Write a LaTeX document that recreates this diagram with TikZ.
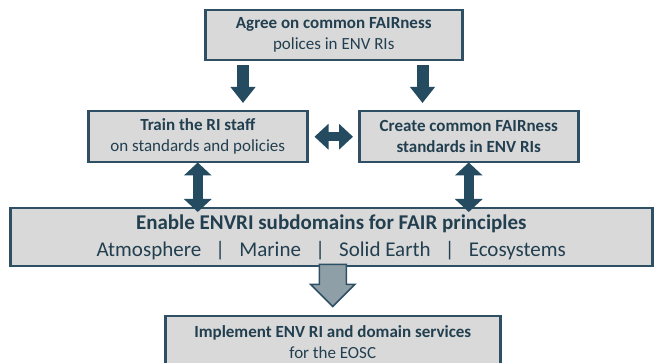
\documentclass[tikz,border=0pt]{standalone}
\usepackage{fontspec}
\setmainfont{Carlito}
\usetikzlibrary{arrows.meta,calc}
\definecolor{boxfill}{HTML}{D9D9D9}
\definecolor{boxline}{HTML}{2F5064}
\definecolor{txt}{HTML}{223F50}
\definecolor{arrowdark}{HTML}{244B5F}
\definecolor{arrowgray}{HTML}{8E9FA8}
\begin{document}
\begin{tikzpicture}[x=1pt,y=-1pt,
  stagebox/.style={draw=boxline, line width=2.5pt, fill=boxfill, text=txt,
    align=center, inner sep=0pt, anchor=north west},
  small/.style={font=\fontsize{17}{21}\selectfont},
  large/.style={font=\fontsize{21}{27}\selectfont},
  downarrow/.style={line width=12pt, arrowdark,
    -{Triangle[length=16pt,width=24pt]}},
  bothvert/.style={line width=10.5pt, arrowdark,
    {Triangle[length=13pt,width=27pt]}-{Triangle[length=13pt,width=27pt]}},
  bothhoriz/.style={line width=9pt, arrowdark,
    {Triangle[length=14pt,width=25pt]}-{Triangle[length=14pt,width=25pt]}},
  grayarrow/.style={draw=boxline, line width=1.5pt, fill=arrowgray, line join=miter}
]
\useasboundingbox (0,0) rectangle (657,363);

% stage boxes
\node[stagebox, small, minimum width=257pt, minimum height=50pt] (agree) at (204,9)
  {\textbf{Agree on common FAIRness}\\polices in ENV RIs};
\node[stagebox, small, minimum width=219pt, minimum height=51pt] (train) at (87,110)
  {\textbf{Train the RI staff}\\on standards and policies};
\node[stagebox, small, minimum width=219pt, minimum height=51pt] (create) at (358,110)
  {\textbf{Create common FAIRness}\\\textbf{standards in ENV RIs}};
\node[stagebox, large, minimum width=642pt, minimum height=58pt] (enable) at (9,207)
  {\textbf{Enable ENVRI subdomains for FAIR principles}\\
   Atmosphere\ \ \ |\ \ \ Marine\ \ \ |\ \ \ Solid Earth\ \ \ |\ \ \ Ecosystems};
\node[stagebox, small, minimum width=335pt, minimum height=52pt] (implement) at (164,315)
  {\textbf{Implement ENV RI and domain services}\\for the EOSC};

% arrows from the agreement into the two activities
\draw[downarrow] ([xshift=39pt,yshift=-4pt]agree.south west) -- ([xshift=39pt,yshift=7pt]agree.south west |- train.north);
\draw[downarrow] ([xshift=-41pt,yshift=-4pt]agree.south east) -- ([xshift=-41pt,yshift=7pt]agree.south east |- create.north);

% exchanges between activities and the subdomains
\draw[bothhoriz] ([xshift=6pt]train.east) -- ([xshift=-5pt]create.west);
\draw[bothvert] ([yshift=1pt]train.south) -- ([yshift=-5pt]train.south |- enable.north);
\draw[bothvert] ([yshift=1pt]create.south) -- ([yshift=-5pt]create.south |- enable.north);

% outlined arrow down to the services
\coordinate (gtop) at ([yshift=3pt]enable.south -| implement.north);
\draw[grayarrow] (gtop) ++(-13.5,0) -- ++(0,20) -- ++(-8.5,0) -- ++(22,22) -- ++(22,-22)
  -- ++(-8.5,0) -- ++(0,-20) -- cycle;
\end{tikzpicture}
\end{document}
